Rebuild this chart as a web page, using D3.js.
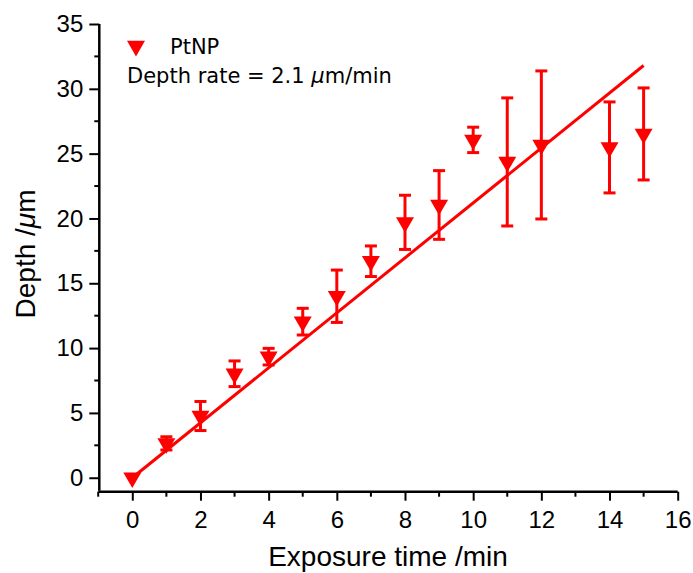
<!DOCTYPE html>
<html>
<head>
<meta charset="utf-8">
<script src="https://cdn.jsdelivr.net/npm/d3@7"></script>
<style>
  body { margin: 0; background: #fff; }
</style>
</head>
<body>
<div class="chart"></div>
<script>
// Data: exposure time (min), depth (um), error (um)
var times = [0, 1, 2, 3, 4, 5, 6, 7, 8, 9, 10, 11, 12, 14, 15];
var depths = [0, 2.65, 4.76, 8.02, 9.34, 12.04, 14.0, 16.7, 19.7, 21.04, 26.06, 24.36, 25.67, 25.48, 26.52];
var errors = [0, 0.51, 1.12, 0.99, 0.64, 1.03, 2.02, 1.18, 2.09, 2.65, 0.98, 4.94, 5.71, 3.51, 3.55];
var fitSlope = 2.12;
var fitRange = [0, 15];
var xTicks = [0, 2, 4, 6, 8, 10, 12, 14, 16];
var yTicks = [0, 5, 10, 15, 20, 25, 30, 35];

var width = 693, height = 573;
var red = "#ff0000";
var sans = "Liberation Sans, Arial, sans-serif";

var svg = d3.select(".chart").append("svg")
    .attr("width", width)
    .attr("height", height)
    .attr("font-family", sans);

// Scales, fitted to where the axes sit in the reference
var x = d3.scaleLinear().domain([-1, 16]).range([98.2, 677.7]);
var y = d3.scaleLinear().domain([-1, 35]).range([490.7, 24]);

// Axes
var xAxis = d3.axisBottom(x).tickValues(xTicks).tickSize(9).tickPadding(10);
var yAxis = d3.axisLeft(y).tickValues(yTicks).tickSize(10).tickPadding(6);

var gx = svg.append("g")
    .attr("transform", "translate(0," + 491.7 + ")")
    .call(xAxis);
var gy = svg.append("g")
    .attr("transform", "translate(" + 99.3 + ",0)")
    .call(yAxis);

// minor ticks
gx.selectAll(".minor").data(d3.range(-1, 16, 2)).enter().append("line")
    .attr("x1", d => x(d)).attr("x2", d => x(d))
    .attr("y1", 0).attr("y2", 5)
    .attr("stroke", "#000").attr("stroke-width", 2);
gy.selectAll(".minor").data(d3.range(2.5, 35, 5)).enter().append("line")
    .attr("y1", d => y(d)).attr("y2", d => y(d))
    .attr("x1", 0).attr("x2", -5)
    .attr("stroke", "#000").attr("stroke-width", 2);

[gx, gy].forEach(function (g) {
    g.attr("font-family", sans).attr("font-size", 24);
    g.select(".domain").attr("stroke", "#000").attr("stroke-width", 2.5);
    g.selectAll(".tick line").attr("stroke", "#000").attr("stroke-width", 2);
    g.selectAll("text").attr("fill", "#000");
});
// drop the outer tick caps
gx.select(".domain").attr("d", "M" + x(-1) + ",0H" + x(16));
gy.select(".domain").attr("d", "M0," + y(-1) + "V" + y(35));

// Axis titles
svg.append("text")
    .attr("x", 388).attr("y", 566)
    .attr("text-anchor", "middle")
    .attr("font-size", 28)
    .text("Exposure time /min");

var yt = svg.append("text")
    .attr("transform", "translate(35,254) rotate(-90)")
    .attr("text-anchor", "middle")
    .attr("font-size", 28);
yt.append("tspan").text("Depth /");
yt.append("tspan").attr("font-style", "italic").text("μ");
yt.append("tspan").text("m");

// Linear fit
svg.append("line")
    .attr("x1", x(fitRange[0])).attr("y1", y(fitSlope * fitRange[0]))
    .attr("x2", x(fitRange[1])).attr("y2", y(fitSlope * fitRange[1]))
    .attr("stroke", red).attr("stroke-width", 3);

// Error bars
var pts = times.map((t, i) => ({ t: t, d: depths[i], e: errors[i] }));
var eb = svg.append("g").attr("stroke", red).attr("stroke-width", 3)
    .selectAll("g").data(pts.filter(p => p.e > 0)).enter().append("g");
eb.append("line")
    .attr("x1", p => x(p.t)).attr("x2", p => x(p.t))
    .attr("y1", p => y(p.d + p.e)).attr("y2", p => y(p.d - p.e));
eb.append("line")
    .attr("x1", p => x(p.t) - 6).attr("x2", p => x(p.t) + 6)
    .attr("y1", p => y(p.d + p.e)).attr("y2", p => y(p.d + p.e));
eb.append("line")
    .attr("x1", p => x(p.t) - 6).attr("x2", p => x(p.t) + 6)
    .attr("y1", p => y(p.d - p.e)).attr("y2", p => y(p.d - p.e));

// Markers: down-pointing triangles
var tri = d3.symbol().type(d3.symbolTriangle).size(140);
svg.append("g").selectAll("path").data(pts).enter().append("path")
    .attr("d", tri)
    .attr("transform", p => "translate(" + x(p.t) + "," + y(p.d) + ") rotate(180)")
    .attr("fill", red);

// Legend
svg.append("path")
    .attr("d", tri)
    .attr("transform", "translate(136,46) rotate(180)")
    .attr("fill", red);
svg.append("text")
    .attr("x", 170).attr("y", 54)
    .attr("font-size", 21)
    .attr("font-family", "DejaVu Sans, sans-serif")
    .text("PtNP");
var lt = svg.append("text")
    .attr("x", 127).attr("y", 83)
    .attr("font-size", 21)
    .attr("font-family", "DejaVu Sans, sans-serif");
lt.append("tspan").text("Depth rate = 2.1 ");
lt.append("tspan").attr("font-style", "italic").text("μ");
lt.append("tspan").text("m/min");
</script>
</body>
</html>
